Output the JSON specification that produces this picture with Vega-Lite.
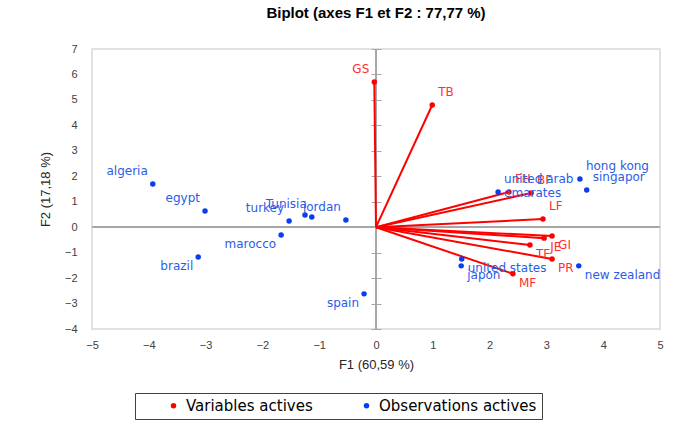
{
  "$schema": "https://vega.github.io/schema/vega-lite/v6.json",
  "width": 568,
  "height": 280,
  "autosize": {"type": "none"},
  "padding": {"left": 92, "top": 49, "right": 19, "bottom": 95},
  "background": "white",
  "title": {
    "text": "Biplot (axes F1 et F2 : 77,77 %)",
    "font": "Liberation Sans",
    "fontSize": 15,
    "fontWeight": "bold",
    "color": "#000000",
    "anchor": "middle",
    "offset": 22
  },
  "data": {
    "values": [
      {"name": "GS", "x": -0.03, "y": 5.70, "type": "Variables actives"},
      {"name": "TB", "x": 0.99, "y": 4.80, "type": "Variables actives"},
      {"name": "FH", "x": 2.34, "y": 1.38, "type": "Variables actives"},
      {"name": "BF", "x": 2.73, "y": 1.34, "type": "Variables actives"},
      {"name": "LF", "x": 2.94, "y": 0.32, "type": "Variables actives"},
      {"name": "GI", "x": 3.10, "y": -0.35, "type": "Variables actives"},
      {"name": "JE", "x": 2.96, "y": -0.43, "type": "Variables actives"},
      {"name": "TF", "x": 2.71, "y": -0.70, "type": "Variables actives"},
      {"name": "PR", "x": 3.10, "y": -1.25, "type": "Variables actives"},
      {"name": "MF", "x": 2.41, "y": -1.83, "type": "Variables actives"},
      {"name": "algeria", "x": -3.93, "y": 1.70, "type": "Observations actives"},
      {"name": "egypt", "x": -3.01, "y": 0.64, "type": "Observations actives"},
      {"name": "brazil", "x": -3.13, "y": -1.17, "type": "Observations actives"},
      {"name": "marocco", "x": -1.67, "y": -0.31, "type": "Observations actives"},
      {"name": "turkey", "x": -1.53, "y": 0.24, "type": "Observations actives"},
      {"name": "", "x": -1.25, "y": 0.48, "type": "Observations actives"},
      {"name": "Tunisia", "x": -1.13, "y": 0.40, "type": "Observations actives"},
      {"name": "jordan", "x": -0.53, "y": 0.28, "type": "Observations actives"},
      {"name": "spain", "x": -0.21, "y": -2.62, "type": "Observations actives"},
      {"name": "united arab\nemarates", "x": 2.15, "y": 1.38, "type": "Observations actives"},
      {"name": "hong kong", "x": 3.59, "y": 1.89, "type": "Observations actives"},
      {"name": "singapor", "x": 3.71, "y": 1.46, "type": "Observations actives"},
      {"name": "united states", "x": 1.51, "y": -1.25, "type": "Observations actives"},
      {"name": "japon", "x": 1.50, "y": -1.52, "type": "Observations actives"},
      {"name": "new zealand", "x": 3.57, "y": -1.52, "type": "Observations actives"}
    ]
  },
  "config": {
    "view": {"stroke": "#d9d9d9", "strokeWidth": 1.5}
  },
  "resolve": {"axis": {"y": "independent"}},
  "layer": [
    {
      "mark": {"type": "rule", "color": "#a6a6a6", "strokeWidth": 1},
      "encoding": {
        "x": {
          "datum": 0, "type": "quantitative", "scale": {"domain": [-5, 5], "nice": false}, "title": "F1 (60,59 %)",
          "axis": {
            "domain": false, "ticks": false, "grid": false, "labelFlush": false,
            "values": [-5, -4, -3, -2, -1, 0, 1, 2, 3, 4, 5], "format": "d",
            "labelFont": "Liberation Sans", "labelFontSize": 11, "labelColor": "#404040", "labelPadding": 10,
            "titleFont": "Liberation Sans", "titleFontSize": 13, "titleFontWeight": "normal", "titleColor": "#262626", "titlePadding": 8
          }
        }
      }
    },
    {
      "mark": {"type": "rule", "color": "#a6a6a6", "strokeWidth": 1},
      "encoding": {
        "y": {
          "datum": 0, "type": "quantitative", "scale": {"domain": [-4, 7], "nice": false},
          "axis": {"orient": "right", "offset": -289, "values": [-4, -3, -2, -1, 0, 1, 2, 3, 4, 5, 6, 7], "labels": false, "ticks": true, "tickSize": 10, "tickColor": "#a6a6a6", "tickWidth": 1, "domain": false, "title": null, "grid": false}
        }
      }
    },
    {
      "transform": [{"filter": "datum.type === 'Variables actives'"}],
      "mark": {"type": "rule", "color": "#ff0000", "strokeWidth": 2},
      "encoding": {
        "x": {"field": "x", "type": "quantitative", "scale": {"domain": [-5, 5], "nice": false}},
        "y": {"field": "y", "type": "quantitative", "scale": {"domain": [-4, 7], "nice": false}, "axis": null},
        "x2": {"datum": 0},
        "y2": {"datum": 0}
      }
    },
    {
      "mark": {"type": "circle", "size": 30, "opacity": 1},
      "encoding": {
        "x": {
          "field": "x", "type": "quantitative", "scale": {"domain": [-5, 5], "nice": false}, "title": "F1 (60,59 %)",
          "axis": {
            "domain": false, "ticks": false, "grid": false, "labelFlush": false,
            "values": [-5, -4, -3, -2, -1, 0, 1, 2, 3, 4, 5], "format": "d",
            "labelFont": "Liberation Sans", "labelFontSize": 11, "labelColor": "#404040", "labelPadding": 10,
            "titleFont": "Liberation Sans", "titleFontSize": 13, "titleFontWeight": "normal", "titleColor": "#262626", "titlePadding": 8
          }
        },
        "y": {
          "field": "y", "type": "quantitative", "scale": {"domain": [-4, 7], "nice": false}, "title": "F2 (17,18 %)",
          "axis": {
            "orient": "left", "domain": false, "ticks": false, "grid": false, "labelFlush": false,
            "values": [-4, -3, -2, -1, 0, 1, 2, 3, 4, 5, 6, 7], "format": "d",
            "labelFont": "Liberation Sans", "labelFontSize": 11, "labelColor": "#404040", "labelPadding": 15,
            "titleFont": "Liberation Sans", "titleFontSize": 13, "titleFontWeight": "normal", "titleColor": "#262626", "titlePadding": 12
          }
        },
        "color": {
          "field": "type", "type": "nominal",
          "scale": {"domain": ["Variables actives", "Observations actives"], "range": ["#ff0000", "#0a3cf0"]},
          "legend": {
            "orient": "none", "legendX": 43, "legendY": 344, "direction": "horizontal", "title": null,
            "strokeColor": "#404040", "padding": 5, "symbolType": "circle", "symbolSize": 30,
            "labelFont": "DejaVu Sans", "labelFontSize": 15, "labelColor": "#000000",
            "columnPadding": 20, "symbolOffset": 26, "labelOffset": 5
          }
        }
      }
    },
    {
      "transform": [{"filter": "datum.x < 0 && datum.y >= 0"}],
      "mark": {"type": "text", "align": "right", "baseline": "middle", "dx": -5, "dy": -13, "font": "DejaVu Sans", "fontSize": 12, "lineBreak": "\n"},
      "encoding": {
        "x": {"field": "x", "type": "quantitative", "scale": {"domain": [-5, 5], "nice": false}},
        "y": {"field": "y", "type": "quantitative", "scale": {"domain": [-4, 7], "nice": false}, "axis": null},
        "text": {"field": "name"},
        "color": {"condition": {"test": "datum.type === 'Variables actives'", "value": "#ff3030"}, "value": "#2b5ce6"}
      }
    },
    {
      "transform": [{"filter": "datum.x < 0 && datum.y < 0"}],
      "mark": {"type": "text", "align": "right", "baseline": "middle", "dx": -5, "dy": 9, "font": "DejaVu Sans", "fontSize": 12, "lineBreak": "\n"},
      "encoding": {
        "x": {"field": "x", "type": "quantitative", "scale": {"domain": [-5, 5], "nice": false}},
        "y": {"field": "y", "type": "quantitative", "scale": {"domain": [-4, 7], "nice": false}, "axis": null},
        "text": {"field": "name"},
        "color": {"condition": {"test": "datum.type === 'Variables actives'", "value": "#ff3030"}, "value": "#2b5ce6"}
      }
    },
    {
      "transform": [{"filter": "datum.x >= 0 && datum.y >= 0"}],
      "mark": {"type": "text", "align": "left", "baseline": "middle", "dx": 6, "dy": -13, "font": "DejaVu Sans", "fontSize": 12, "lineBreak": "\n"},
      "encoding": {
        "x": {"field": "x", "type": "quantitative", "scale": {"domain": [-5, 5], "nice": false}},
        "y": {"field": "y", "type": "quantitative", "scale": {"domain": [-4, 7], "nice": false}, "axis": null},
        "text": {"field": "name"},
        "color": {"condition": {"test": "datum.type === 'Variables actives'", "value": "#ff3030"}, "value": "#2b5ce6"}
      }
    },
    {
      "transform": [{"filter": "datum.x >= 0 && datum.y < 0"}],
      "mark": {"type": "text", "align": "left", "baseline": "middle", "dx": 6, "dy": 9, "font": "DejaVu Sans", "fontSize": 12, "lineBreak": "\n"},
      "encoding": {
        "x": {"field": "x", "type": "quantitative", "scale": {"domain": [-5, 5], "nice": false}},
        "y": {"field": "y", "type": "quantitative", "scale": {"domain": [-4, 7], "nice": false}, "axis": null},
        "text": {"field": "name"},
        "color": {"condition": {"test": "datum.type === 'Variables actives'", "value": "#ff3030"}, "value": "#2b5ce6"}
      }
    }
  ]
}
